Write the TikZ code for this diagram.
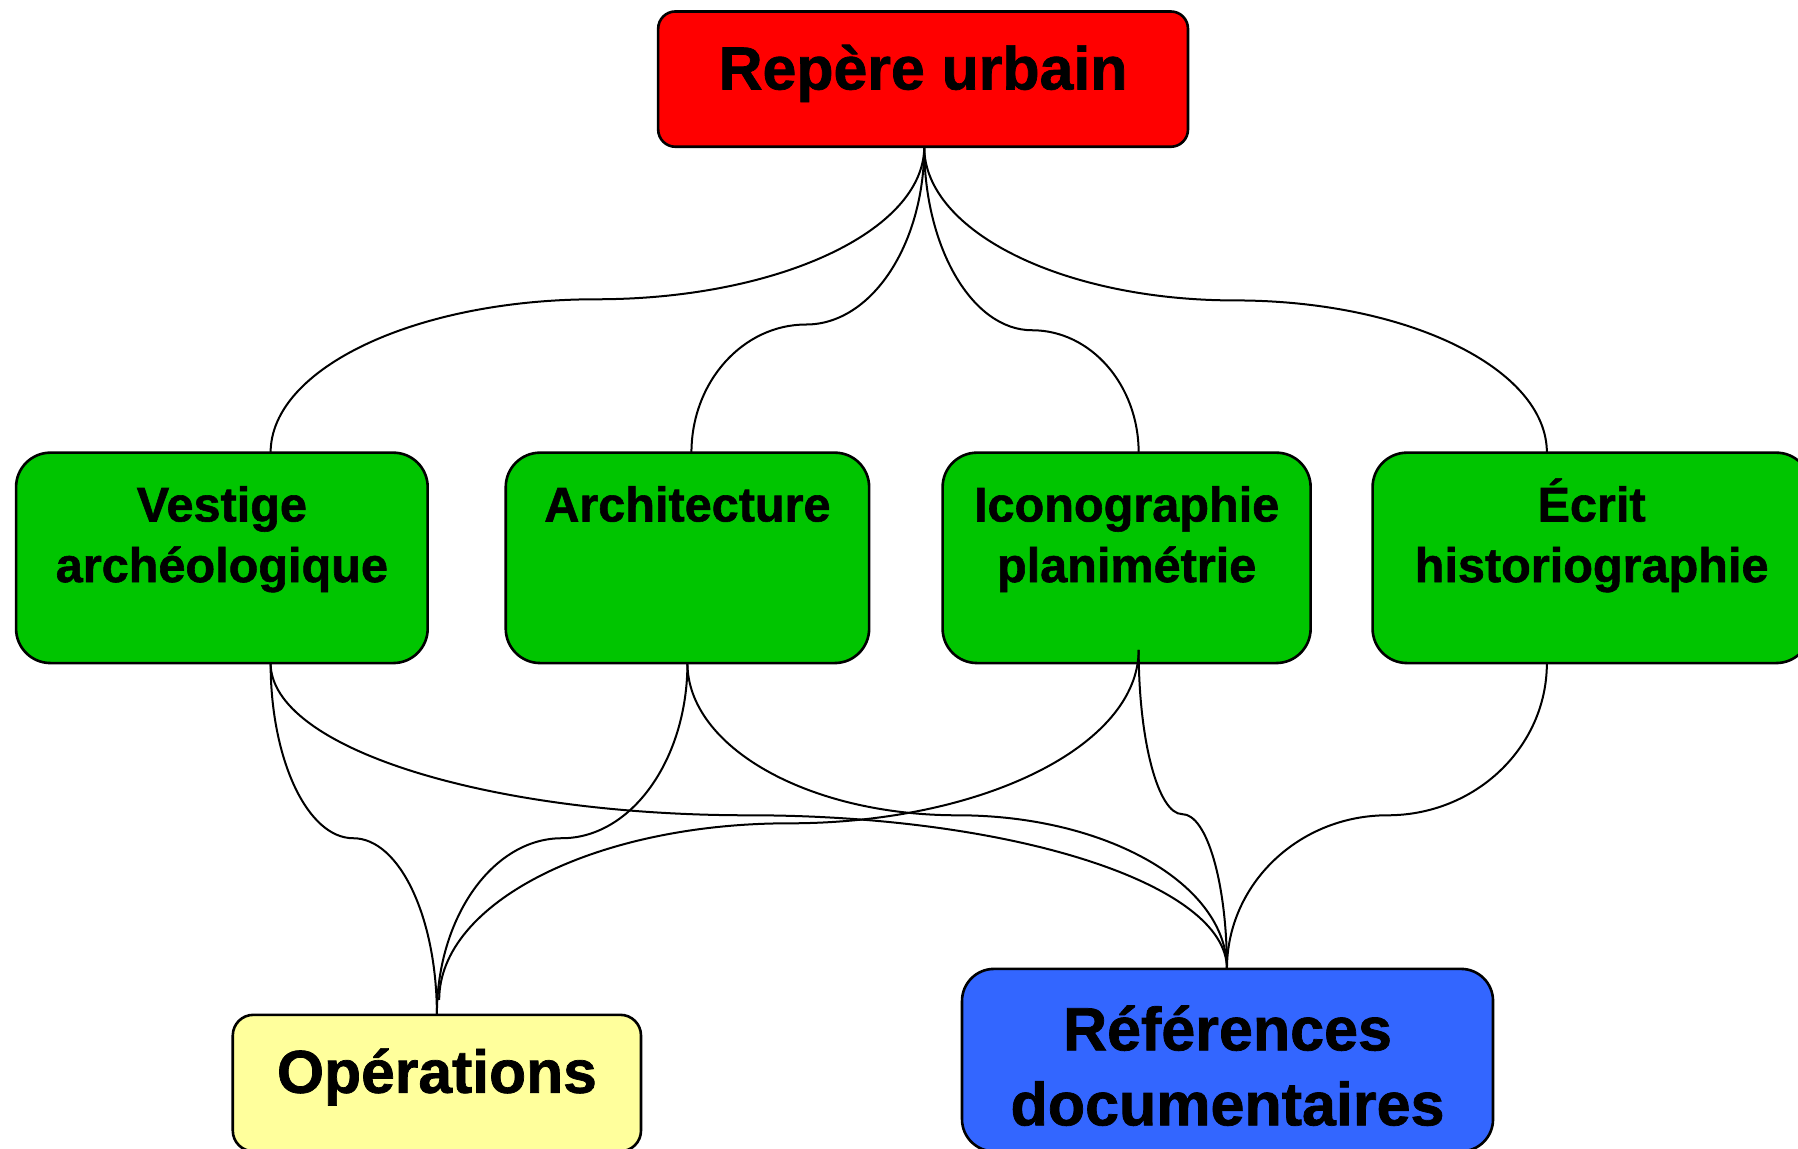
\documentclass[tikz,border=0pt]{standalone}
\usepackage{fontspec}
\setmainfont{Liberation Sans}[BoldFeatures={FakeBold=1.2}]
\usetikzlibrary{calc}
\definecolor{boxred}{HTML}{FF0000}
\definecolor{boxgreen}{HTML}{00C500}
\definecolor{boxyellow}{HTML}{FFFF9C}
\definecolor{boxblue}{HTML}{3366FF}
\newcommand\conncurve[3]{\draw[conn] (#1) .. controls ($(#1)!0.552!(#1|-#2)$) and ($(#2)!0.552!(#1|-#2)$) .. (#2) .. controls ($(#2)!0.552!(#3|-#2)$) and ($(#3)!0.552!(#3|-#2)$) .. (#3);}
\begin{document}
\begin{tikzpicture}[x=0.57334pt,y=-0.57334pt,
  box/.style={draw=black,line width=1.3pt,inner sep=0pt,outer sep=0pt},
  lbl/.style={anchor=base,inner sep=0pt,font=\bfseries},
  conn/.style={draw=black,line width=1pt}]
\useasboundingbox (0,0) rectangle (1568,1002);
% boxes
\node[box,fill=boxred,rounded corners=8.6pt,minimum width=264.9pt,minimum height=67.65pt] (rep) at (805,69) {};
\node[box,fill=boxgreen,rounded corners=17.2pt,minimum width=205.8pt,minimum height=105.2pt] (ves) at (193.5,486.5) {};
\node[box,fill=boxgreen,rounded corners=17.2pt,minimum width=181.7pt,minimum height=105.2pt] (arc) at (599.5,486.5) {};
\node[box,fill=boxgreen,rounded corners=17.2pt,minimum width=184.0pt,minimum height=105.2pt] (ico) at (982.5,486.5) {};
\node[box,fill=boxgreen,rounded corners=17.2pt,minimum width=219.0pt,minimum height=105.2pt] (ecr) at (1388,486.5) {};
\node[box,fill=boxyellow,rounded corners=10.3pt,minimum width=204.1pt,minimum height=68.2pt] (ope) at (381,944.5) {};
\node[box,fill=boxblue,rounded corners=16pt,minimum width=265.5pt,minimum height=91.2pt] (ref) at (1070.5,924.5) {};
% labels
\node[lbl,font=\fontsize{30.4}{36}\selectfont\bfseries] (repL) at ($(rep.north)+(0,68)$) {Repère urbain};
\node[lbl,font=\fontsize{24.3}{30.3}\selectfont\bfseries] (vesL) at ($(ves.north)+(0,60)$) {\begin{tabular}[t]{@{}c@{}}Vestige\\archéologique\end{tabular}};
\node[lbl,font=\fontsize{24.3}{30.3}\selectfont\bfseries] (arcL) at ($(arc.north)+(0,60)$) {Architecture};
\node[lbl,font=\fontsize{24.3}{30.3}\selectfont\bfseries] (icoL) at ($(ico.north)+(0,60)$) {\begin{tabular}[t]{@{}c@{}}Iconographie\\planimétrie\end{tabular}};
\node[lbl,font=\fontsize{24.3}{30.3}\selectfont\bfseries] (ecrL) at ($(ecr.north)+(0,60)$) {\begin{tabular}[t]{@{}c@{}}Écrit\\historiographie\end{tabular}};
\node[lbl,font=\fontsize{30.3}{36}\selectfont\bfseries] (opeL) at ($(ope.north)+(0,68)$) {Opérations};
\node[lbl,font=\fontsize{30.5}{37.5}\selectfont\bfseries] (refL) at ($(ref.north)+(0,71)$) {\begin{tabular}[t]{@{}c@{}}Références\\documentaires\end{tabular}};
% anchor points
\coordinate (repB) at ($(rep.south)+(1,0)$);
\coordinate (vesT) at ($(ves.north)+(42.5,0)$);
\coordinate (vesB) at ($(ves.south)+(42.5,0)$);
\coordinate (arcT) at ($(arc.north)+(3.5,0)$);
\coordinate (arcB) at (arc.south);
\coordinate (icoT) at ($(ico.north)+(10.5,0)$);
\coordinate (icoB) at ($(ico.south)+(10.5,-11.5)$);
\coordinate (ecrT) at ($(ecr.north)+(-39,0)$);
\coordinate (ecrB) at ($(ecr.south)+(-39,0)$);
\coordinate (opeT) at (ope.north);
\coordinate (opeT2) at ($(ope.north)+(2,-13)$);
\coordinate (refT) at ($(ref.north)+(-0.5,0)$);
% mid points
\coordinate (m1) at (520,261);
\coordinate (m2) at (703,283);
\coordinate (m3) at (900,288);
\coordinate (m4) at (1077,262);
\coordinate (m5) at (308,731);
\coordinate (m6) at (653,711);
\coordinate (m7) at (490,731);
\coordinate (m8) at (835,711);
\coordinate (m9) at (688,718);
\coordinate (m10) at (1031,710);
\coordinate (m11) at (1210,711);
% connectors
\conncurve{repB}{m1}{vesT}
\conncurve{repB}{m2}{arcT}
\conncurve{repB}{m3}{icoT}
\conncurve{repB}{m4}{ecrT}
\conncurve{vesB}{m5}{opeT}
\conncurve{vesB}{m6}{refT}
\conncurve{arcB}{m7}{opeT}
\conncurve{arcB}{m8}{refT}
\conncurve{icoB}{m9}{opeT2}
\conncurve{icoB}{m10}{refT}
\conncurve{ecrB}{m11}{refT}
\end{tikzpicture}
\end{document}
